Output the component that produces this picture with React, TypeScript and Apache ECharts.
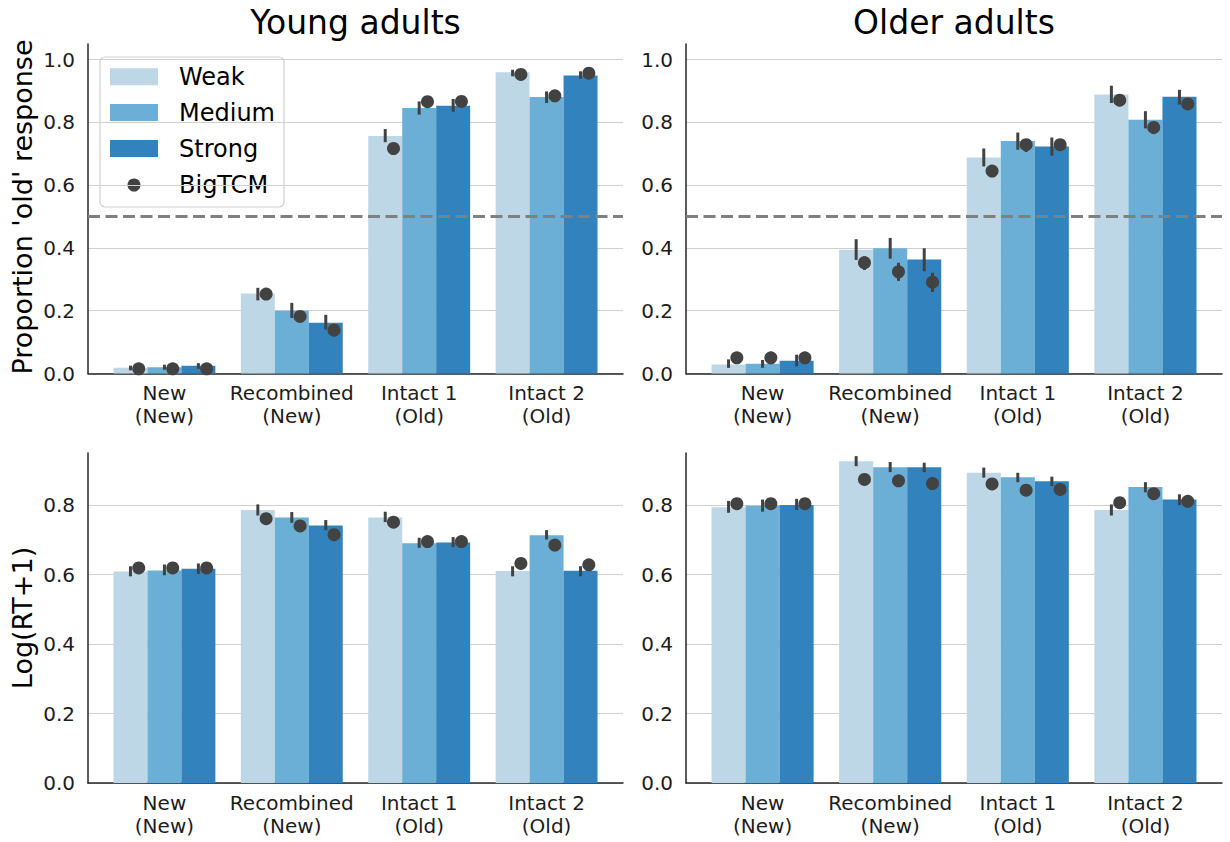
import React, { useEffect, useRef } from 'react';
import * as echarts from 'echarts';

// ---------- data ----------
const categories = ['New\n(New)', 'Recombined\n(New)', 'Intact 1\n(Old)', 'Intact 2\n(Old)'];
const strengths = ['Weak', 'Medium', 'Strong'];
const strengthColors = ['#bdd7e7', '#6baed6', '#3182bd'];
const panelTitles = ['Young adults', 'Older adults'];
const rowLabels = ["Proportion 'old' response", 'Log(RT+1)'];
const propTicks = [0, 0.2, 0.4, 0.6, 0.8, 1.0];
const rtTicks = [0, 0.2, 0.4, 0.6, 0.8];
const chanceLevel = 0.5;

// Young adults – proportion 'old' response (rows: Weak, Medium, Strong)
const youngPropMean = [
  [0.018, 0.255, 0.757, 0.960],
  [0.020, 0.200, 0.846, 0.881],
  [0.025, 0.162, 0.853, 0.950],
];
const youngPropLo = [
  [0.010, 0.233, 0.737, 0.947],
  [0.012, 0.177, 0.825, 0.862],
  [0.015, 0.140, 0.834, 0.939],
];
const youngPropHi = [
  [0.025, 0.273, 0.779, 0.968],
  [0.028, 0.225, 0.867, 0.899],
  [0.033, 0.187, 0.875, 0.963],
];
const youngPropModel = [
  [0.015, 0.253, 0.717, 0.953],
  [0.015, 0.182, 0.866, 0.885],
  [0.015, 0.138, 0.867, 0.957],
];

// Older adults – proportion 'old' response
const olderPropMean = [
  [0.029, 0.394, 0.688, 0.889],
  [0.031, 0.399, 0.741, 0.809],
  [0.041, 0.363, 0.723, 0.882],
];
const olderPropLo = [
  [0.018, 0.362, 0.660, 0.862],
  [0.018, 0.366, 0.713, 0.781],
  [0.023, 0.326, 0.694, 0.857],
];
const olderPropHi = [
  [0.045, 0.428, 0.717, 0.917],
  [0.043, 0.432, 0.768, 0.836],
  [0.060, 0.399, 0.752, 0.904],
];
const olderPropModel = [
  [0.050, 0.353, 0.645, 0.871],
  [0.050, 0.324, 0.729, 0.784],
  [0.050, 0.291, 0.729, 0.859],
];
const olderPropModelLo = [
  [0.050, 0.330, 0.626, 0.856],
  [0.050, 0.295, 0.706, 0.763],
  [0.050, 0.260, 0.710, 0.843],
];
const olderPropModelHi = [
  [0.050, 0.374, 0.664, 0.885],
  [0.050, 0.353, 0.747, 0.800],
  [0.050, 0.321, 0.747, 0.874],
];

// Young adults – Log(RT+1)
const youngRtMean = [
  [0.609, 0.786, 0.764, 0.610],
  [0.612, 0.764, 0.690, 0.713],
  [0.617, 0.741, 0.692, 0.611],
];
const youngRtLo = [
  [0.595, 0.770, 0.751, 0.595],
  [0.598, 0.749, 0.677, 0.701],
  [0.602, 0.728, 0.679, 0.595],
];
const youngRtHi = [
  [0.624, 0.802, 0.781, 0.624],
  [0.629, 0.780, 0.706, 0.728],
  [0.632, 0.757, 0.708, 0.624],
];
const youngRtModel = [
  [0.619, 0.761, 0.751, 0.632],
  [0.619, 0.740, 0.695, 0.685],
  [0.619, 0.715, 0.695, 0.628],
];

// Older adults – Log(RT+1)
const olderRtMean = [
  [0.794, 0.926, 0.893, 0.786],
  [0.798, 0.909, 0.880, 0.852],
  [0.800, 0.909, 0.869, 0.816],
];
const olderRtLo = [
  [0.778, 0.912, 0.879, 0.770],
  [0.781, 0.895, 0.866, 0.837],
  [0.786, 0.895, 0.855, 0.800],
];
const olderRtHi = [
  [0.812, 0.941, 0.908, 0.802],
  [0.816, 0.924, 0.893, 0.866],
  [0.818, 0.922, 0.882, 0.831],
];
const olderRtModel = [
  [0.804, 0.874, 0.861, 0.807],
  [0.804, 0.870, 0.843, 0.833],
  [0.804, 0.862, 0.845, 0.811],
];

// ---------- layout / style ----------
const FONT = '"DejaVu Sans", "Noto Sans", sans-serif';
const TEXT = '#1c1c1c';
const SPINE = '#262626';
const DARK = '#424242';
const BAR_W = 0.8 / 3;
const OFFS = [-BAR_W, 0, BAR_W];
const DOT_OFF = 0.065;

type Panel = {
  mean: number[][]; lo: number[][]; hi: number[][]; model: number[][];
  modelLo?: number[][]; modelHi?: number[][];
  max: number; ticks: number[]; chance: boolean;
  grid: { left: number; top: number; width: number; height: number };
};

const panels: Panel[] = [
  { mean: youngPropMean, lo: youngPropLo, hi: youngPropHi, model: youngPropModel, max: 1.05, ticks: propTicks, chance: true,
    grid: { left: 88, top: 44, width: 535, height: 329.5 } },
  { mean: olderPropMean, lo: olderPropLo, hi: olderPropHi, model: olderPropModel, modelLo: olderPropModelLo, modelHi: olderPropModelHi,
    max: 1.05, ticks: propTicks, chance: true,
    grid: { left: 686, top: 44, width: 536, height: 329.5 } },
  { mean: youngRtMean, lo: youngRtLo, hi: youngRtHi, model: youngRtModel, max: 0.95, ticks: rtTicks, chance: false,
    grid: { left: 88, top: 453, width: 535, height: 330 } },
  { mean: olderRtMean, lo: olderRtLo, hi: olderRtHi, model: olderRtModel, max: 0.95, ticks: rtTicks, chance: false,
    grid: { left: 686, top: 453, width: 536, height: 330 } },
];

function buildOption() {
  const grids: any[] = [];
  const xAxes: any[] = [];
  const yAxes: any[] = [];
  const series: any[] = [];

  panels.forEach((p, pi) => {
    grids.push({ ...p.grid, containLabel: false });
    xAxes.push({
      type: 'value', gridIndex: pi, min: -0.6, max: 3.6,
      axisLine: { show: true, onZero: false, lineStyle: { color: SPINE, width: 1.5 } },
      axisTick: { show: false },
      splitLine: { show: false },
      axisLabel: {
        customValues: [0, 1, 2, 3],
        formatter: (v: number) => categories[Math.round(v)] ?? '',
        fontSize: 20, lineHeight: 23, color: TEXT, fontFamily: FONT, margin: 8,
      },
    });
    yAxes.push({
      type: 'value', gridIndex: pi, min: 0, max: p.max, interval: 0.2,
      axisLine: { show: true, onZero: false, lineStyle: { color: SPINE, width: 1.5 } },
      axisTick: { show: false },
      splitLine: { show: true, showMaxLine: false, lineStyle: { color: '#cfcfcf', width: 1.2 } },
      axisLabel: {
        customValues: p.ticks,
        formatter: (v: number) => v.toFixed(1),
        fontSize: 20, color: TEXT, fontFamily: FONT, margin: 13,
      },
    });

    strengths.forEach((sName, s) => {
      // bars
      series.push({
        type: 'custom', name: sName, xAxisIndex: pi, yAxisIndex: pi, z: 2,
        data: categories.map((_, i) => [i, p.mean[s][i]]),
        renderItem: (params: any, api: any) => {
          const c = api.value(0);
          const v = api.value(1);
          const a = api.coord([c + OFFS[s] - BAR_W / 2, 0]);
          const b = api.coord([c + OFFS[s] + BAR_W / 2, v]);
          return {
            type: 'rect',
            shape: { x: a[0], y: b[1], width: b[0] - a[0], height: a[1] - b[1] },
            style: { fill: strengthColors[s] },
          };
        },
      });
      // error bars (data CI)
      series.push({
        type: 'custom', name: sName + ' CI', xAxisIndex: pi, yAxisIndex: pi, z: 3,
        data: categories.map((_, i) => [i, p.lo[s][i], p.hi[s][i]]),
        renderItem: (params: any, api: any) => {
          const c = api.value(0);
          const a = api.coord([c + OFFS[s], api.value(1)]);
          const b = api.coord([c + OFFS[s], api.value(2)]);
          return {
            type: 'line',
            shape: { x1: a[0], y1: a[1], x2: b[0], y2: b[1] },
            style: { stroke: DARK, lineWidth: 3, lineCap: 'butt' },
          };
        },
      });
      // BigTCM model points
      const hasCI = !!(p.modelLo && p.modelHi);
      const modelSeries: any = {
        type: 'custom', name: 'BigTCM', xAxisIndex: pi, yAxisIndex: pi, z: 4,
        data: categories.map((_, i) =>
          hasCI ? [i, p.model[s][i], p.modelLo![s][i], p.modelHi![s][i]] : [i, p.model[s][i]]),
        renderItem: (params: any, api: any) => {
          const c = api.value(0);
          const x = c + OFFS[s] + DOT_OFF;
          const pt = api.coord([x, api.value(1)]);
          const children: any[] = [];
          if (hasCI) {
            const a = api.coord([x, api.value(2)]);
            const b = api.coord([x, api.value(3)]);
            children.push({
              type: 'line', shape: { x1: a[0], y1: a[1], x2: b[0], y2: b[1] },
              style: { stroke: DARK, lineWidth: 3 },
            });
          }
          children.push({ type: 'circle', shape: { cx: pt[0], cy: pt[1], r: 6.5 }, style: { fill: DARK } });
          return { type: 'group', children };
        },
      };
      if (p.chance && s === 2) {
        modelSeries.markLine = {
          silent: true, symbol: 'none', label: { show: false },
          lineStyle: { type: [12, 5.5], color: '#808080', width: 3 },
          data: [{ yAxis: chanceLevel }],
        };
      }
      series.push(modelSeries);
    });
  });

  // titles, row labels, legend drawn as graphic elements
  const graphic: any[] = [
    { type: 'text', x: 355.5, y: 22, z: 100,
      style: { text: panelTitles[0], font: `33px ${FONT}`, fill: '#000', align: 'center', verticalAlign: 'middle', textAlign: 'center', textVerticalAlign: 'middle' } },
    { type: 'text', x: 954, y: 22, z: 100,
      style: { text: panelTitles[1], font: `33px ${FONT}`, fill: '#000', align: 'center', verticalAlign: 'middle', textAlign: 'center', textVerticalAlign: 'middle' } },
    { type: 'text', x: 22, y: 207, rotation: Math.PI / 2, z: 100,
      style: { text: rowLabels[0], font: `27px ${FONT}`, fill: '#000', align: 'center', verticalAlign: 'middle', textAlign: 'center', textVerticalAlign: 'middle' } },
    { type: 'text', x: 22, y: 618, rotation: Math.PI / 2, z: 100,
      style: { text: rowLabels[1], font: `27px ${FONT}`, fill: '#000', align: 'center', verticalAlign: 'middle', textAlign: 'center', textVerticalAlign: 'middle' } },
  ];

  const legendChildren: any[] = [
    { type: 'rect', shape: { x: 100, y: 57, width: 184, height: 150, r: 5 },
      style: { fill: 'rgba(255,255,255,0.8)', stroke: '#d0d0d0', lineWidth: 1.2 } },
  ];
  const rowY = [76.7, 112.5, 148.5, 185];
  strengths.forEach((sName, s) => {
    legendChildren.push({ type: 'rect', shape: { x: 110, y: rowY[s] - 8.5, width: 48, height: 17 }, style: { fill: strengthColors[s] } });
    legendChildren.push({ type: 'text', x: 179, y: rowY[s],
      style: { text: sName, font: `24px ${FONT}`, fill: '#000', align: 'left', verticalAlign: 'middle', textAlign: 'left', textVerticalAlign: 'middle' } });
  });
  legendChildren.push({ type: 'circle', shape: { cx: 134, cy: rowY[3], r: 6.5 }, style: { fill: DARK } });
  legendChildren.push({ type: 'text', x: 179, y: rowY[3],
    style: { text: 'BigTCM', font: `24px ${FONT}`, fill: '#000', align: 'left', verticalAlign: 'middle', textAlign: 'left', textVerticalAlign: 'middle' } });
  graphic.push({ type: 'group', z: 100, children: legendChildren });

  return {
    animation: false,
    backgroundColor: '#ffffff',
    textStyle: { fontFamily: FONT },
    grid: grids,
    xAxis: xAxes,
    yAxis: yAxes,
    series,
    graphic,
  };
}

export default function App() {
  const ref = useRef<HTMLDivElement>(null);
  useEffect(() => {
    if (!ref.current) return;
    const chart = echarts.init(ref.current, undefined, { renderer: 'svg' });
    chart.setOption(buildOption());
    return () => chart.dispose();
  }, []);
  return (
    <div
      ref={ref}
      style={{ position: 'absolute', left: 0, top: 0, width: 1230, height: 842, background: '#fff' }}
    />
  );
}
